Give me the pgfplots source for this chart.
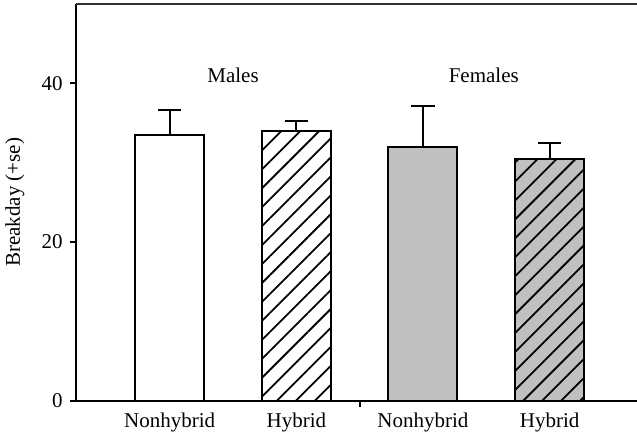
\documentclass[border=0pt]{standalone}
\usepackage{fontspec}
\setmainfont{Liberation Serif}
\usepackage{pgfplots}
\pgfplotsset{compat=1.18}
\usetikzlibrary{patterns.meta}
\definecolor{bargray}{RGB}{192,192,192}
\begin{document}
\fontsize{10.5}{12.6}\selectfont
\begin{tikzpicture}
\begin{axis}[
  scale only axis,
  width=280.5pt, height=198.35pt,
  xmin=-0.74, xmax=3.69,
  ymin=0, ymax=50,
  clip=false,
  axis x line*=bottom,
  axis y line*=left,
  axis line style={line width=0.9pt},
  ytick={0,20,40},
  xtick={0,1,2,3},
  xticklabels={Nonhybrid,Hybrid,Nonhybrid,Hybrid},
  x tick style={draw=none},
  y tick style={line width=0.9pt, black},
  tick align=outside,
  major tick length=3pt,
  /pgf/number format/assume math mode=true,
  tick label style={font=\fontsize{10.5}{12.6}\selectfont},
  x tick label style={yshift=0.8pt},
  ylabel={Breakday (+se)},
  every axis y label/.style={at={(axis description cs:-0.109,0.5)}, rotate=90, anchor=center},
  error bars/y dir=plus,
  error bars/y explicit,
  error bars/error bar style={line width=1pt, black},
  error bars/error mark options={rotate=90, mark size=5.8pt, line width=1pt, black},
]
\addplot[ybar, bar width=34.5pt, bar shift=0pt, draw=black, line width=1pt, fill=white]
  coordinates {(0,33.5) +- (0,3.2)};
\addplot[ybar, bar width=34.5pt, bar shift=0pt, draw=black, line width=1pt, fill=white,
  postaction={pattern={Lines[angle=45, distance=6.7pt, line width=0.9pt]}}]
  coordinates {(1,34.05) +- (0,1.25)};
\addplot[ybar, bar width=34.5pt, bar shift=0pt, draw=black, line width=1pt, fill=bargray]
  coordinates {(2,31.95) +- (0,5.25)};
\addplot[ybar, bar width=34.5pt, bar shift=0pt, draw=black, line width=1pt, fill=bargray,
  postaction={pattern={Lines[angle=45, distance=6.7pt, line width=0.9pt]}}]
  coordinates {(3,30.4) +- (0,2.1)};
\node at (axis cs:0.5,41) {Males};
\node at (axis cs:2.48,41) {Females};
\draw[line width=0.9pt, black!80] (rel axis cs:0,1) -- (rel axis cs:1,1);
\draw[line width=0.9pt] (axis cs:1.5,0) -- ([yshift=-3pt]axis cs:1.5,0);
\end{axis}
\pgfresetboundingbox
\path[use as bounding box] ([xshift=-38pt,yshift=-15.3pt]current axis.south west) rectangle ([yshift=2pt]current axis.north east);
\end{tikzpicture}
\end{document}
